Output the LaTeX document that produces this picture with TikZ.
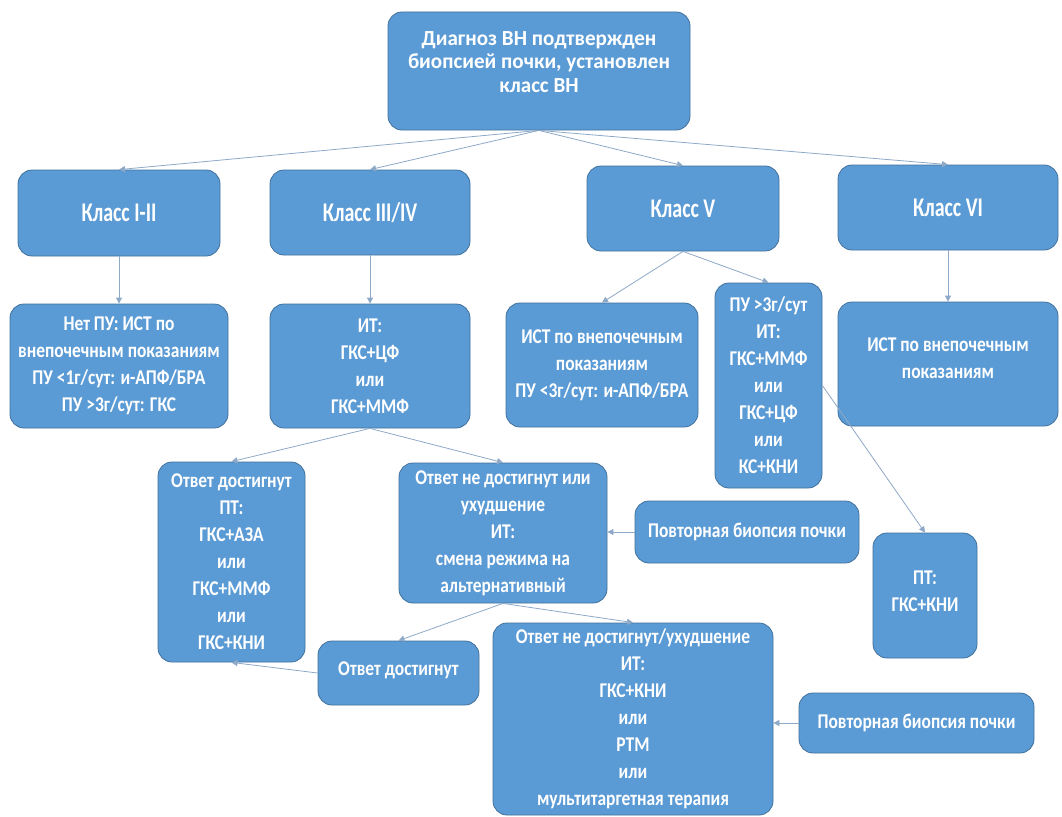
\documentclass[tikz,border=0pt]{standalone}
\usepackage{fontspec}
\newfontfamily\cf{Carlito}[FakeStretch=0.83]
\newfontfamily\cfc{Carlito}[FakeStretch=0.74]
\newfontfamily\cft{Carlito}[FakeStretch=0.98]
\usetikzlibrary{arrows.meta}
\definecolor{boxfill}{HTML}{5B9BD5}
\definecolor{boxline}{HTML}{41719C}
\definecolor{conn}{HTML}{8EA9C8}
\begin{document}
\begin{tikzpicture}[x=1pt,y=-1pt,
  box/.style={draw=boxline, line width=0.8pt, fill=boxfill, rounded corners=14pt,
    text=white, align=center, inner sep=0pt,
    font=\cf\bfseries\fontsize{21}{27}\selectfont},
  cls/.style={box, font=\cfc\bfseries\fontsize{27}{32}\selectfont},
  conn/.style={draw=conn, line width=0.8pt, -{Triangle[width=6pt,length=6pt]}}]
\useasboundingbox (0,0) rectangle (1062,816);
\fill[white] (0,0) rectangle (1062,816);

\node[box, minimum width=302pt, minimum height=118pt, font=\cft\bfseries\fontsize{21.5}{23.5}\selectfont] (top) at (539,71)
  {Диагноз ВН подтвержден\\биопсией почки, установлен\\класс ВН\\[-5.5pt]};

\node[cls, minimum width=202pt, minimum height=86pt] (c12) at (119,213) {Класс I-II};
\node[cls, minimum width=200pt, minimum height=85pt] (c34) at (370,212.5) {Класс III/IV};
\node[cls, minimum width=192pt, minimum height=85pt] (c5) at (683,208.5) {Класс V};
\node[cls, minimum width=220pt, minimum height=85pt] (c6) at (948,207.5) {Класс VI};

\node[box, minimum width=218pt, minimum height=124pt] (b12) at (119,366)
  {Нет ПУ: ИСТ по\\внепочечным показаниям\\ПУ <1г/сут: и-АПФ/БРА\\ПУ >3г/сут: ГКС};
\node[box, minimum width=200pt, minimum height=124pt] (b34) at (370,366)
  {ИТ:\\ГКС+ЦФ\\или\\ГКС+ММФ};
\node[box, minimum width=192pt, minimum height=124pt] (b5a) at (602,365)
  {ИСТ по внепочечным\\показаниям\\ПУ <3г/сут: и-АПФ/БРА};
\node[box, minimum width=107pt, minimum height=205pt] (b5b) at (768.5,385.5)
  {ПУ >3г/сут\\ИТ:\\ГКС+ММФ\\или\\ГКС+ЦФ\\или\\КС+КНИ};
\node[box, minimum width=220pt, minimum height=124pt] (b6) at (948,364)
  {ИСТ по внепочечным\\показаниям\\[-16pt]};

\node[box, minimum width=147pt, minimum height=200pt] (pt1) at (231.5,562)
  {Ответ достигнут\\ПТ:\\ГКС+АЗА\\или\\ГКС+ММФ\\или\\ГКС+КНИ};
\node[box, minimum width=208pt, minimum height=140pt] (nd1) at (503,533)
  {Ответ не достигнут или\\ухудшение\\ИТ:\\смена режима на\\альтернативный};
\node[box, minimum width=224pt, minimum height=62pt] (rb1) at (747,532)
  {Повторная биопсия почки};
\node[box, minimum width=104pt, minimum height=125pt] (pt2) at (925,595.5)
  {ПТ:\\ГКС+КНИ\\[-18pt]};
\node[box, minimum width=161pt, minimum height=64pt] (ok) at (398.5,673)
  {Ответ достигнут\\[-19pt]};
\node[box, minimum width=280pt, minimum height=192pt] (nd2) at (633,719)
  {Ответ не достигнут/ухудшение\\ИТ:\\ГКС+КНИ\\или\\РТМ\\или\\мультитаргетная терапия};
\node[box, minimum width=235pt, minimum height=60pt] (rb2) at (916.5,723)
  {Повторная биопсия почки};

\draw[conn] (top.south) -- (c12.north);
\draw[conn] (top.south) -- (c34.north);
\draw[conn] (top.south) -- (c5.north);
\draw[conn] (top.south) -- (c6.north);
\draw[conn] (c12.south) -- (b12.north);
\draw[conn] (c34.south) -- (b34.north);
\draw[conn] (c5.south) -- (b5a.north);
\draw[conn] (c5.south) -- (b5b.north);
\draw[conn] (c6.south) -- (b6.north);
\draw[conn] (b34.south) -- (pt1.north);
\draw[conn] (b34.south) -- (nd1.north);
\draw[conn] (rb1.west) -- (nd1.east |- rb1.west);
\draw[conn] (nd1.south) -- (ok.north);
\draw[conn] (nd1.south) -- (nd2.north);
\draw[conn] (ok.west) -- (pt1.south);
\draw[conn] (b5b.east) -- (pt2.north);
\draw[conn] (rb2.west) -- (nd2.east |- rb2.west);
\end{tikzpicture}
\end{document}
